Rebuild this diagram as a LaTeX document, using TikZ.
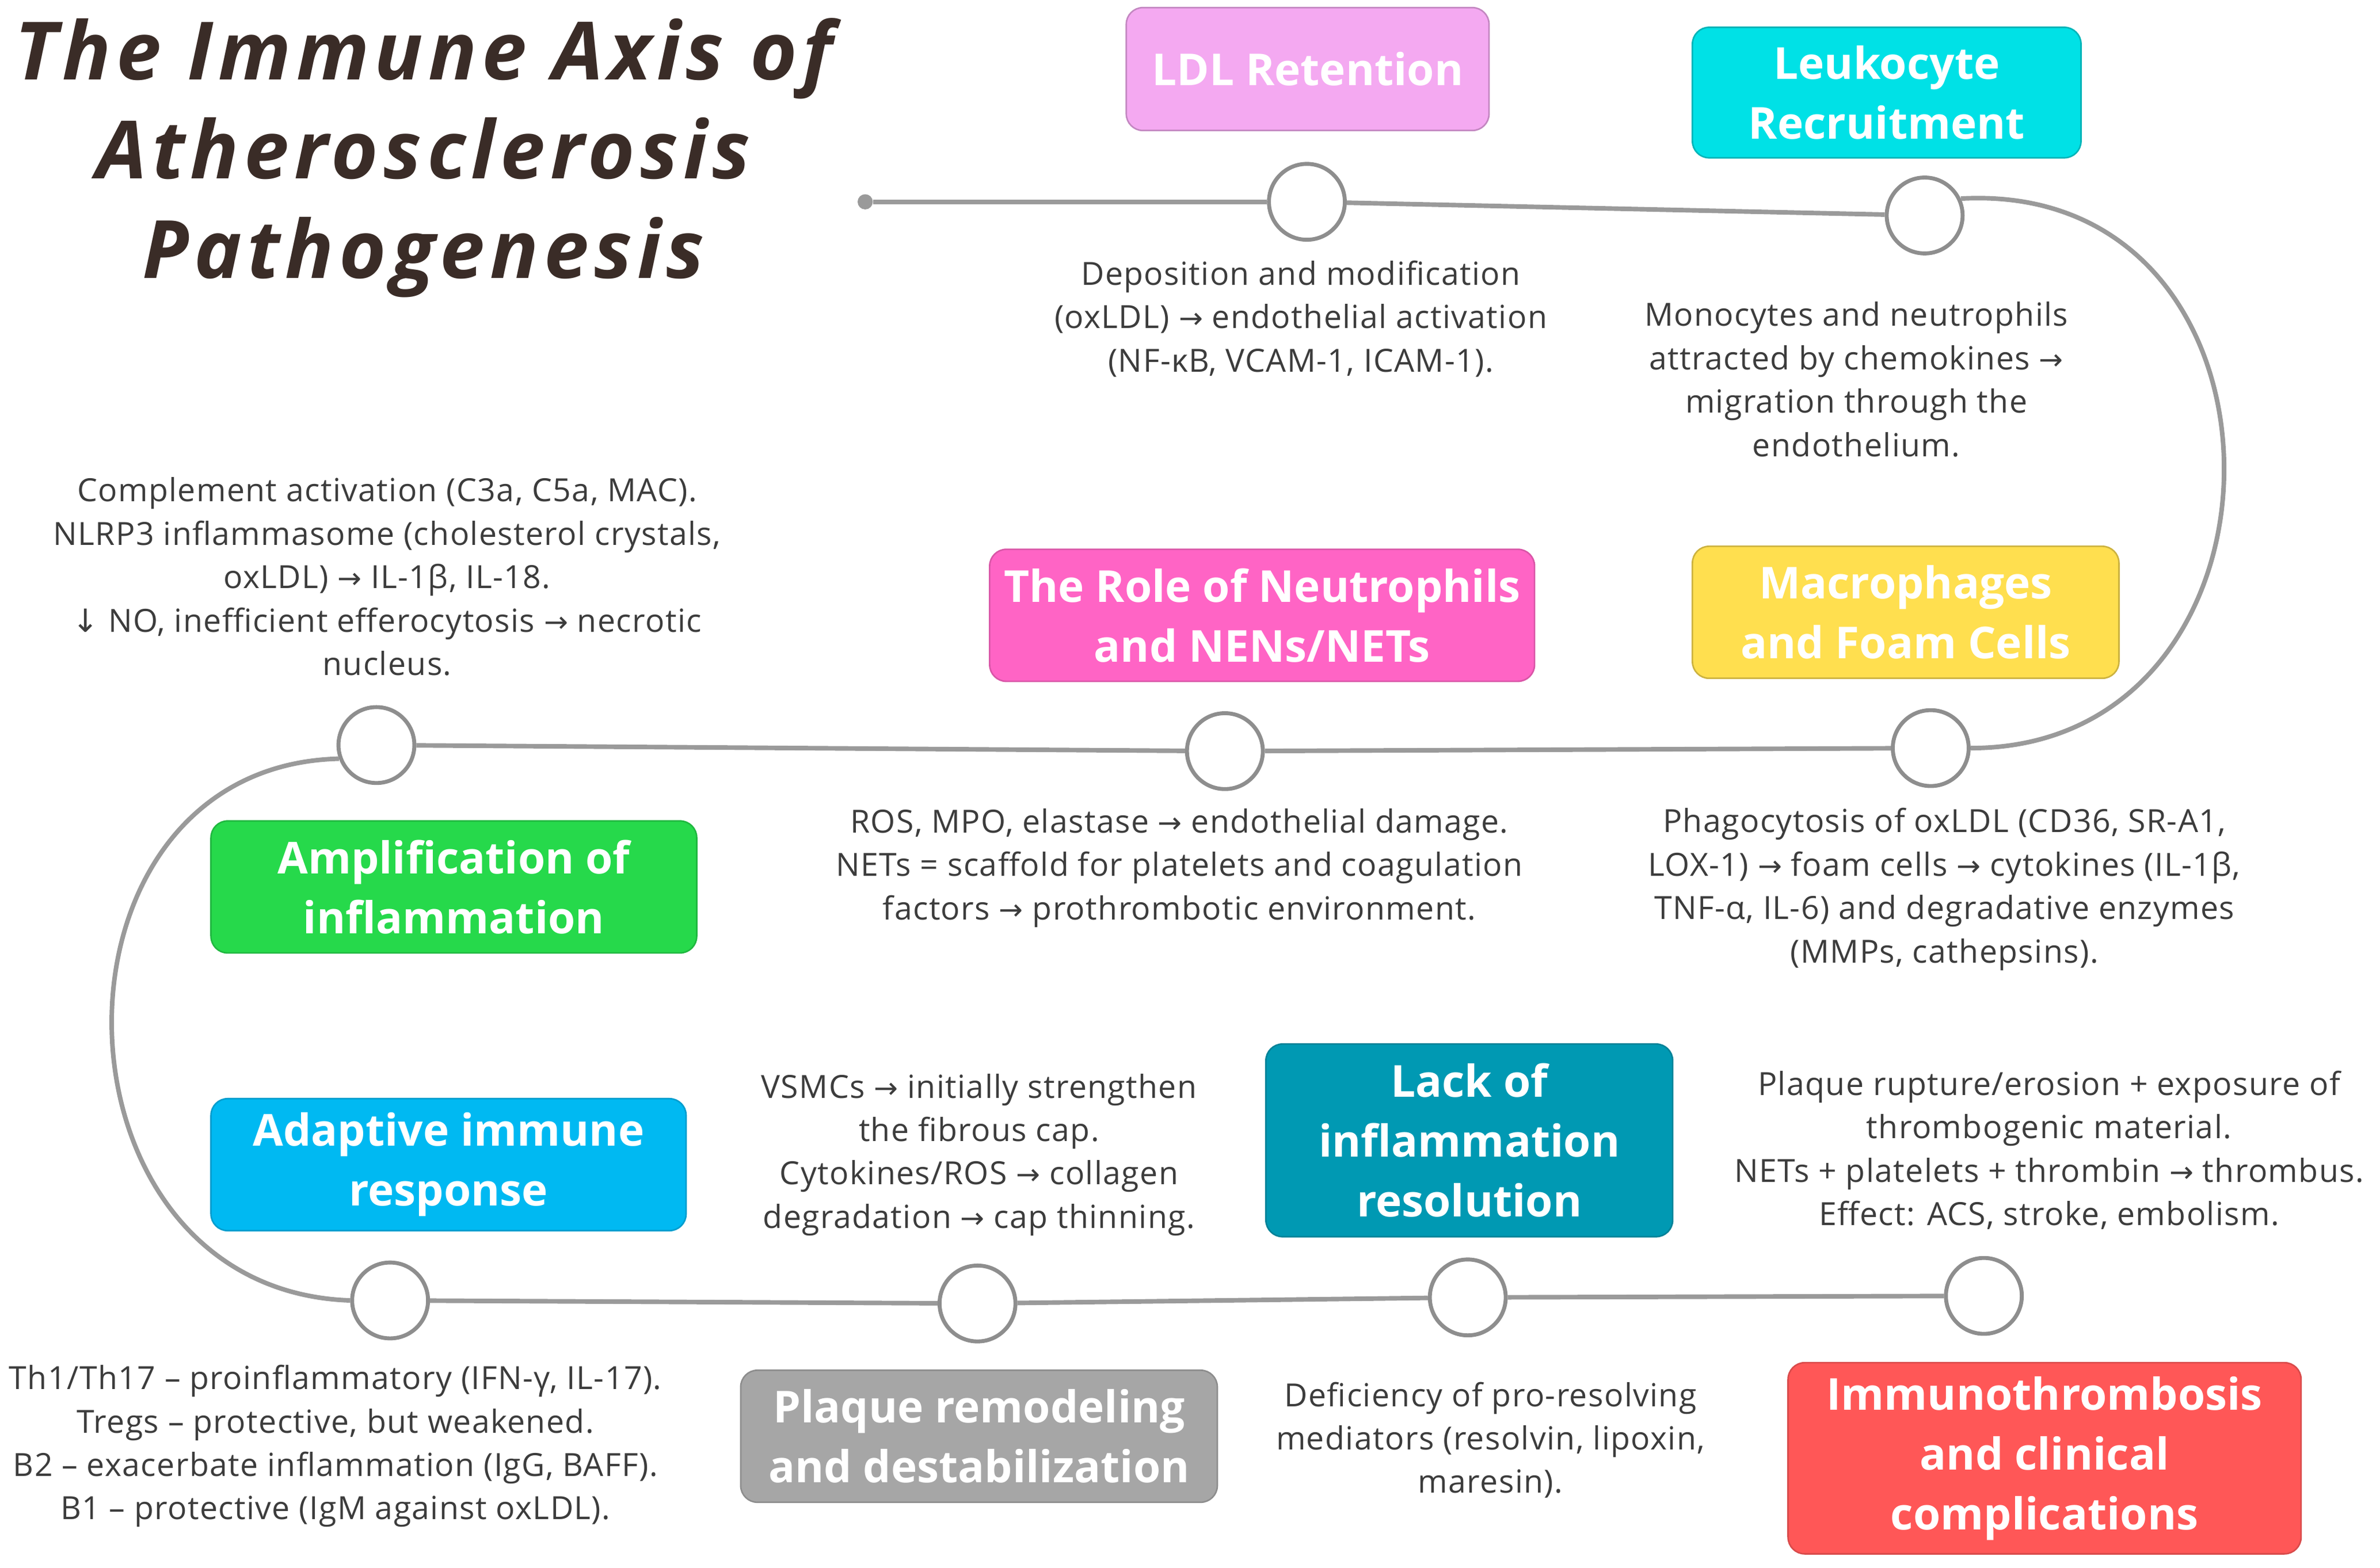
\documentclass[tikz,border=0pt]{standalone}
\usepackage{fontspec}
\setmainfont{Open Sans}
\newfontfamily\symf{DejaVu Sans}
\newfontfamily\titlef[LetterSpace=6.5]{Open Sans}
\newfontfamily\descf[LetterSpace=2.5]{Open Sans}
\newcommand{\ra}{{\symf\fontsize{19}{20}\selectfont →}}
\newcommand{\da}{{\symf ↓}}
\definecolor{txt}{HTML}{3C3C3C}
\definecolor{ttl}{HTML}{3A2C27}
\definecolor{lin}{HTML}{9A9A9A}
\definecolor{cir}{HTML}{8E8E8E}
\definecolor{cLDL}{HTML}{F4A9F1}
\definecolor{cLeu}{HTML}{00E1E6}
\definecolor{cNeu}{HTML}{FF64C5}
\definecolor{cMac}{HTML}{FFDF4F}
\definecolor{cAmp}{HTML}{26D94B}
\definecolor{cAda}{HTML}{00B9F2}
\definecolor{cLac}{HTML}{0099B3}
\definecolor{cPla}{HTML}{A6A6A6}
\definecolor{cImm}{HTML}{FF5757}
\tikzset{
  stagebox/.style={rounded corners=11pt, line width=1pt, text=white, align=center,
    font=\bfseries\fontsize{29}{39.5}\selectfont, inner sep=0pt},
  desc/.style={text=txt, align=center, font=\descf\fontsize{21}{28.6}\selectfont, inner sep=0pt},
  milestone/.style={circle, draw=cir, line width=2.6pt, fill=white, minimum size=50pt, inner sep=0pt},
  axis/.style={draw=lin, line width=3pt},
  startdot/.style={circle, fill=lin, minimum size=10pt, inner sep=0pt}
}
\begin{document}
\begin{tikzpicture}[x=1pt,y=-1pt]
\useasboundingbox (0,0) rectangle (1568,1033.3);
\fill[white] (0,0) rectangle (1568,1033.3);

% title
\node[text=ttl, align=center, font=\titlef\bfseries\itshape\fontsize{53}{65.5}\selectfont, inner sep=0pt]
  (title) at (279,104) {The Immune Axis of\\Atherosclerosis\\Pathogenesis};

% milestones
\node[startdot] (s0) at (570,133) {};
\node[milestone] (c1) at (861,133) {};
\node[milestone] (c2) at (1268,142) {};
\node[milestone] (c3) at (1272,493) {};
\node[milestone] (c4) at (807,495) {};
\node[milestone] (c5) at (248,491) {};
\node[milestone] (c6) at (257,857) {};
\node[milestone] (c7) at (644,859) {};
\node[milestone] (c8) at (967,855) {};
\node[milestone] (c9) at (1307,854) {};

% axis
\draw[axis] (s0) -- (c1);
\draw[axis] (c1) -- (c2);
\draw[axis] (c2.25) .. controls (1522,118) and (1522,493) .. (c3.east);
\draw[axis] (c3) -- (c4);
\draw[axis] (c4) -- (c5);
\draw[axis] (c5.200) .. controls (20,505) and (25,850) .. (c6.west);
\draw[axis] (c6) -- (c7);
\draw[axis] (c7) -- (c8);
\draw[axis] (c8) -- (c9);

% stage boxes
\node[stagebox, fill=cLDL, draw=cLDL!80!black, minimum width=239pt, minimum height=81pt] (b1) at (861.5,45.5) {LDL Retention};
\node[stagebox, fill=cLeu, draw=cLeu!80!black, minimum width=256pt, minimum height=86pt] (b2) at (1243,61) {Leukocyte\\Recruitment};
\node[stagebox, fill=cNeu, draw=cNeu!85!black, minimum width=359pt, minimum height=87pt] (b3) at (831.5,405.5) {The Role of Neutrophils\\and NENs/NETs};
\node[stagebox, fill=cMac, draw=cMac!80!black, minimum width=281pt, minimum height=87pt] (b4) at (1255.5,403.5) {Macrophages\\and Foam Cells};
\node[stagebox, fill=cAmp, draw=cAmp!85!black, minimum width=320pt, minimum height=87pt] (b5) at (299,584.5) {Amplification of\\inflammation};
\node[stagebox, fill=cAda, draw=cAda!85!black, minimum width=313pt, minimum height=87pt] (b6) at (295.5,767.5) {Adaptive immune\\response};
\node[stagebox, fill=cLac, draw=cLac!85!black, minimum width=268pt, minimum height=127pt] (b7) at (968,751.5) {Lack of\\inflammation\\resolution};
\node[stagebox, fill=cPla, draw=cPla!85!black, minimum width=314pt, minimum height=87pt] (b8) at (645,946.5) {Plaque remodeling\\and destabilization};
\node[stagebox, fill=cImm, draw=cImm!85!black, minimum width=338pt, minimum height=126pt] (b9) at (1347,961) {Immunothrombosis\\and clinical\\complications};

% descriptions
\node[desc] (d1) at (857,210) {Deposition and modification\\(oxLDL) \ra{} endothelial activation\\(NF-κB, VCAM-1, ICAM-1).};
\node[desc] (d2) at (1223,250) {Monocytes and neutrophils\\attracted by chemokines \ra\\migration through the\\endothelium.};
\node[desc] (d3) at (255,380) {Complement activation (C3a, C5a, MAC).\\NLRP3 inflammasome (cholesterol crystals,\\oxLDL) \ra{} IL-1β, IL-18.\\\da{} NO, inefficient efferocytosis \ra{} necrotic\\nucleus.};
\node[desc] (d4) at (777,572) {ROS, MPO, elastase \ra{} endothelial damage.\\NETs = scaffold for platelets and coagulation\\factors \ra{} prothrombotic environment.};
\node[desc] (d5) at (1281,586) {Phagocytosis of oxLDL (CD36, SR-A1,\\LOX-1) \ra{} foam cells \ra{} cytokines (IL-1β,\\TNF-α, IL-6) and degradative enzymes\\(MMPs, cathepsins).};
\node[desc] (d6) at (645,761) {VSMCs \ra{} initially strengthen\\the fibrous cap.\\Cytokines/ROS \ra{} collagen\\degradation \ra{} cap thinning.};
\node[desc] (d7) at (1350,758) {Plaque rupture/erosion + exposure of\\thrombogenic material.\\NETs + platelets + thrombin \ra{} thrombus.\\Effect: ACS, stroke, embolism.};
\node[desc] (d8) at (221,953) {Th1/Th17 – proinflammatory (IFN-γ, IL-17).\\Tregs – protective, but weakened.\\B2 – exacerbate inflammation (IgG, BAFF).\\B1 – protective (IgM against oxLDL).};
\node[desc] (d9) at (982,949) {Deficiency of pro-resolving\\mediators (resolvin, lipoxin,\\maresin).};
\end{tikzpicture}
\end{document}
